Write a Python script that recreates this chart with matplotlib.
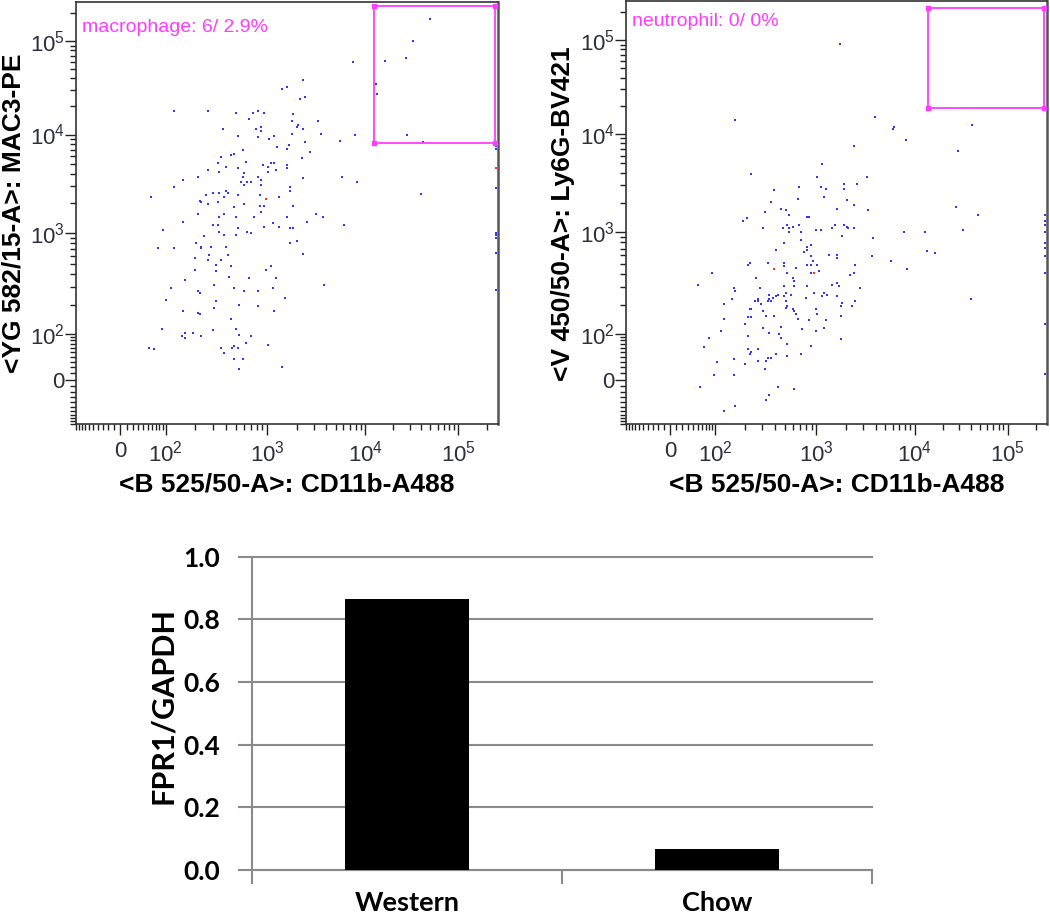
import numpy as np
import matplotlib
matplotlib.use('Agg')
import matplotlib.pyplot as plt

plt.rcParams['font.family'] = ['Liberation Sans', 'DejaVu Sans']
plt.rcParams['mathtext.fontset'] = 'custom'
plt.rcParams['mathtext.rm'] = 'Liberation Sans'
plt.rcParams['mathtext.it'] = 'Liberation Sans:italic'
plt.rcParams['mathtext.bf'] = 'Liberation Sans:bold'

# ---------------- data: macrophage plot (CD11b vs MAC3) ----------------
mac_x = [2330, 1600, 1430, 2440, 2170, 122, 267, 501, 726, 815, 940, 1860, 675, 1800, 3300, 2090, 873, 783, 873, 375,
         2010, 2350, 3570, 1800, 520, 815, 1050, 1180, 2440, 1670, 1600, 1270, 2720, 582, 485, 450, 358, 2260, 333, 402,
         630, 520, 906, 1016, 1100, 1185, 1600, 1600, 1233, 1016, 267, 345, 605, 582, 815, 214, 153, 562, 648, 700,
         873, 605, 873, 2350, 122, 1730, 1730, 402, 418, 299, 345, 256, 386, 520, 847, 56, 1320, 222, 231, 267,
         333, 485, 605, 847, 940, 1860,
         880, 214, 386, 345, 501, 755, 1600, 3180, 3710, 153, 2540, 299, 333, 1140, 1320, 940, 520, 1730, 1860, 91,
         345, 386, 501, 648, 700, 247, 206, 1730, 2010, 77, 122, 231, 231, 287, 402, 2350, 277, 418, 198, 267,
         358, 322, 450, 1100, 977, 198, 322, 433, 675, 1233, 159, 3830, 310, 114, 485, 1140, 214, 222, 605, 815,
         1540, 102, 322, 541, 815, 310, 153, 214, 222, 1185, 450, 87, 299, 501, 159, 191, 147, 159, 231, 541,
         700, 630, 1016, 358, 463, 478, 520, 52, 64, 386, 485, 582, 1430, 541,
         7570, 49000, 32400, 27400, 16100, 12900, 13300, 7870, 28300, 41400, 5550, 5820, 8240, 40000, 6040,
         250000, 250000, 250000, 250000, 250000, 250000, 250000, 250000]
mac_y = [38000, 32300, 31000, 25500, 24300, 17700, 17700, 17000, 17000, 17700, 17000, 16400, 14500, 13900, 13900, 12800, 11900, 11400, 10900, 11400,
         11900, 11400, 10070, 10070, 9680, 9330, 8970, 9680, 8300, 7740, 7160, 7450, 6620, 6880, 6370, 6140, 5900, 5720, 5090, 4710,
         5290, 4540, 4900, 4710, 5090, 5090, 4900, 4540, 4360, 4190, 4360, 4190, 4040, 3730, 3730, 3730, 3450, 3320, 3320, 3320,
         3450, 3080, 3080, 3590, 2920, 2920, 2660, 2660, 2550, 2550, 2550, 2400, 2330, 2400, 2450, 2310, 2310, 2120, 2040, 1960,
         2040, 1850, 1960, 1890, 1890, 1890,
         1630, 1570, 1570, 1450, 1450, 1450, 1450, 1570, 1450, 1300, 1300, 1200, 1200, 1250, 1160, 1160, 1110, 1110, 1110, 1070,
         1030, 962, 962, 1030, 1000, 925, 796, 796, 826, 710, 710, 736, 710, 736, 736, 624, 614, 614, 569, 548,
         548, 493, 474, 474, 440, 440, 424, 378, 366, 366, 353, 315, 315, 292, 292, 292, 273, 262, 273, 273,
         234, 225, 217, 201, 194, 186, 174, 168, 161, 174, 144, 115, 111, 115, 103, 103, 93, 87, 93, 99,
         93, 73, 68, 60, 60, 64, 60, 60, 56, 48, 35, 35, 20, 17,
         59700, 173000, 100000, 66500, 61100, 35100, 27400, 10000, 10000, 8300, 8610, 3730, 3320, 2480, 1190,
         7670, 7110, 2890, 1000, 962, 891, 634, 281]
mac_red_x = [977, 250000]
mac_red_y = [2200, 4540]
mac_gate_x = [12300, 244000]
mac_gate_y = [8110, 235000]

# ---------------- data: neutrophil plot (CD11b vs Ly6G) ----------------
neu_x = [162, 3950, 2390, 1150, 234, 1020, 3250, 1890, 2580, 684, 1100, 1240, 1890, 391, 658, 1190, 362, 2040, 2390, 455,
         506, 1620, 3380, 315, 545, 818, 850, 209, 194, 525, 684, 587, 303, 473, 545, 545, 705, 982, 1100, 1440,
         1560, 1890, 2040, 2120, 2390, 1810, 3800, 705, 490, 883, 818, 818, 760, 406, 1340, 1620, 1620, 883, 3660, 918,
         225, 217, 339, 490, 490, 818, 883, 1020, 2480, 634,
         88, 525, 883, 1060, 2210, 2390, 260, 587, 611, 52, 156, 162, 281, 490, 611, 818, 1440, 1620, 1690, 2770,
         506, 944, 1190, 1290, 349, 422, 490, 566, 1150, 1620, 150, 270, 270, 377, 406, 251, 339, 362, 350, 506,
         789, 2480, 1810, 124, 291, 525, 506, 1760, 2300, 587, 611, 224, 234, 303, 982, 634, 1020, 217, 234, 326,
         391, 1760, 125, 658, 850, 1240, 201, 455, 303, 1190, 731, 116, 982, 349, 438, 455, 217, 79, 1760, 525,
         883, 65, 217, 270, 234, 225, 406, 705, 525, 339, 362, 156, 270, 326, 104, 201, 315, 95, 156, 56,
         422, 611, 350, 326, 162, 125,
         6190, 6000, 41800, 8170, 29200, 28000, 48700, 7840, 13100, 33000, 13600, 16700, 5770, 8470, 40100,
         250000, 250000, 250000, 250000, 250000, 250000, 250000, 250000, 250000, 250000, 1750]
neu_y = [14000, 15200, 7480, 4910, 3920, 3620, 3620, 3100, 3100, 2890, 2890, 2760, 2760, 2670, 2200, 2290, 2040, 2110, 1880, 1740,
         1670, 1740, 1670, 1610, 1490, 1430, 1430, 1390, 1290, 1190, 1190, 1140, 1100, 1100, 1100, 1017, 1017, 1060, 1060, 1100,
         1190, 1190, 1140, 1100, 1100, 914, 881, 847, 787, 757, 728, 676, 650, 676, 612, 612, 567, 590, 590, 526,
         507, 489, 507, 507, 470, 489, 489, 489, 489, 456,
         407, 407, 407, 423, 392, 407, 364, 364, 337, 313, 292, 271, 292, 301, 301, 301, 313, 325, 301, 292,
         261, 261, 261, 251, 251, 251, 242, 251, 242, 242, 226, 226, 218, 233, 242, 218, 218, 218, 226, 218,
         233, 218, 209, 202, 202, 194, 187, 194, 194, 180, 173, 180, 180, 173, 180, 161, 161, 150, 150, 155,
         155, 155, 145, 145, 139, 139, 129, 120, 115, 115, 112, 108, 108, 104, 100, 88, 94, 88, 83, 69,
         65, 61, 57, 57, 49, 45, 45, 45, 42, 38, 38, 35, 32, 32, 29, 26, 17, 7, 7, -12,
         -12, -15, -26, -35, -48, -60,
         11900, 11400, 12400, 8690, 6650, 1810, 1500, 1020, 1020, 1065, 661, 635, 526, 440, 226,
         1500, 1290, 1190, 1020, 792, 707, 590, 407, 128, 9.7, 91600]
neu_red_x = [391, 944]
neu_red_y = [440, 407]
neu_gate_x = [13900, 244000]
neu_gate_y = [18970, 222000]

# ---------------- data: bar chart ----------------
bar_categories = ['Western', 'Chow']
bar_values = [0.864, 0.066]

# ---------------- axis (biexponential-like) scale ----------------
ANCH_V = np.array([-100.0, 0.0, 100.0, 1e3, 1e4, 1e5, 262143.0])
ANCH_F = np.array([0.0, 0.105, 0.2125, 0.453, 0.686, 0.907, 1.0])
C = 50.0
ANCH_U = np.arcsinh(ANCH_V / C)


def fwd(v):
    u = np.arcsinh(np.asarray(v, dtype=float) / C)
    out = np.interp(u, ANCH_U, ANCH_F)
    s0 = (ANCH_F[1] - ANCH_F[0]) / (ANCH_U[1] - ANCH_U[0])
    s1 = (ANCH_F[-1] - ANCH_F[-2]) / (ANCH_U[-1] - ANCH_U[-2])
    out = np.where(u < ANCH_U[0], ANCH_F[0] + (u - ANCH_U[0]) * s0, out)
    out = np.where(u > ANCH_U[-1], ANCH_F[-1] + (u - ANCH_U[-1]) * s1, out)
    return out


def inv(f):
    f = np.asarray(f, dtype=float)
    u = np.interp(f, ANCH_F, ANCH_U)
    s0 = (ANCH_U[1] - ANCH_U[0]) / (ANCH_F[1] - ANCH_F[0])
    s1 = (ANCH_U[-1] - ANCH_U[-2]) / (ANCH_F[-1] - ANCH_F[-2])
    u = np.where(f < ANCH_F[0], ANCH_U[0] + (f - ANCH_F[0]) * s0, u)
    u = np.where(f > ANCH_F[-1], ANCH_U[-1] + (f - ANCH_F[-1]) * s1, u)
    return C * np.sinh(u)


MAJOR = [0, 1e2, 1e3, 1e4, 1e5]
MAJOR_LABELS = ['0', r'$\mathregular{10^{2}}$', r'$\mathregular{10^{3}}$',
                r'$\mathregular{10^{4}}$', r'$\mathregular{10^{5}}$']
MINOR = ([-k * 10 for k in range(1, 11)] + [k * 10 for k in range(1, 10)] +
         [k * 100 for k in range(2, 10)] + [k * 1000 for k in range(2, 10)] +
         [k * 10000 for k in range(2, 10)] + [200000])

W, H = 1050, 918
fig = plt.figure(figsize=(W / 100, H / 100), dpi=100)
fig.patch.set_facecolor('white')


def box(l, t, r, b):
    return [l / W, 1 - b / H, (r - l) / W, (b - t) / H]


TICKC = '#2e2e40'
MAG = '#ff3cff'
BLUE = '#3535ff'
RED = '#ff3030'


def flow_axes(rect, x, y, rx, ry, gx, gy):
    ax = fig.add_axes(rect)
    ax.set_xscale('function', functions=(fwd, inv))
    ax.set_yscale('function', functions=(fwd, inv))
    ax.set_xlim(-100, 262143)
    ax.set_ylim(-100, 262143)
    ax.set_xticks(MAJOR, labels=MAJOR_LABELS)
    ax.set_yticks(MAJOR, labels=MAJOR_LABELS)
    ax.set_xticks(MINOR, minor=True)
    ax.set_yticks(MINOR, minor=True)
    ax.tick_params(which='both', direction='out', color='#222222', width=1.0,
                   labelsize=16, labelcolor=TICKC)
    ax.tick_params(which='major', length=8)
    ax.tick_params(which='minor', length=4.5)
    ax.tick_params(axis='y', which='major', pad=0)
    ax.tick_params(axis='x', which='major', pad=4)
    for sp in ax.spines.values():
        sp.set_linewidth(1.2)
        sp.set_color('#333333')
    ax.spines['right'].set_color('#555555')
    ax.spines['right'].set_linewidth(1.8)
    ax.scatter(x, y, s=4.5, marker='s', c=BLUE, linewidths=0, clip_on=False, zorder=3)
    ax.scatter(rx, ry, s=4.5, marker='s', c=RED, linewidths=0, clip_on=False, zorder=4)
    x0, x1 = gx
    y0, y1 = gy
    ax.plot([x0, x1, x1, x0, x0], [y0, y0, y1, y1, y0], color=MAG, lw=1.3, zorder=5)
    ax.plot([x0, x1, x1, x0], [y0, y0, y1, y1], 's', ms=2.2, color=MAG, zorder=6)
    return ax


ax1 = flow_axes(box(76, 2, 497.7, 424), mac_x, mac_y, mac_red_x, mac_red_y, mac_gate_x, mac_gate_y)
ax2 = flow_axes(box(625.8, 1, 1046.7, 424), neu_x, neu_y, neu_red_x, neu_red_y, neu_gate_x, neu_gate_y)

fig.text(82 / W, 1 - 31.7 / H, 'macrophage: 6/ 2.9%', color=MAG, fontsize=14, va='baseline', ha='left')
fig.text(631.6 / W, 1 - 26 / H, 'neutrophil: 0/ 0%', color=MAG, fontsize=14, va='baseline', ha='left')

fig.text(286.5 / W, 1 - 484 / H, '<B 525/50-A>: CD11b-A488', fontsize=19, fontweight='bold',
         ha='center', va='center')
fig.text(836.3 / W, 1 - 484 / H, '<B 525/50-A>: CD11b-A488', fontsize=19, fontweight='bold',
         ha='center', va='center')
fig.text(13.5 / W, 1 - 213 / H, '<YG 582/15-A>: MAC3-PE', fontsize=19, fontweight='bold',
         ha='center', va='center', rotation=90)
fig.text(563 / W, 1 - 214 / H, '<V 450/50-A>: Ly6G-BV421', fontsize=19, fontweight='bold',
         ha='center', va='center', rotation=90)

# ---------------- bar chart ----------------
GRAY = '#8a8a8a'
ax3 = fig.add_axes(box(252, 556.7, 872, 870))
pos = np.arange(len(bar_categories))
ax3.bar(pos, bar_values, width=0.4, color='black', zorder=3)
ax3.set_xlim(-0.5, len(bar_categories) - 0.5)
ax3.set_ylim(0, 1.0)
ax3.set_yticks(np.arange(0, 1.01, 0.2), labels=['%.1f' % v for v in np.arange(0, 1.01, 0.2)])
ax3.grid(axis='y', color=GRAY, lw=1.5, zorder=0)
for gl in ax3.get_ygridlines():
    gl.set_clip_on(False)
ax3.set_xticks(pos, labels=bar_categories)
ax3.set_xticks(np.arange(-0.5, len(bar_categories), 1.0), minor=True)
ax3.tick_params(axis='x', which='major', length=0, pad=15)
ax3.tick_params(axis='x', which='minor', length=10, width=1.5, color=GRAY)
ax3.tick_params(axis='y', which='major', length=10, width=1.5, color=GRAY, pad=13)
for lab in ax3.get_yticklabels():
    lab.set_fontfamily('Lato')
    lab.set_fontweight('bold')
    lab.set_fontsize(19)
for lab in ax3.get_xticklabels():
    lab.set_fontfamily('Lato')
    lab.set_fontweight('bold')
    lab.set_fontsize(19.5)
for s in ['top', 'right']:
    ax3.spines[s].set_visible(False)
for s in ['left', 'bottom']:
    ax3.spines[s].set_color(GRAY)
    ax3.spines[s].set_linewidth(1.5)
fig.text(163 / W, 1 - 705 / H, 'FPR1/GAPDH', fontfamily='Lato', fontweight='bold', fontsize=22,
         rotation=90, ha='center', va='center')

fig.savefig('out.png', dpi=100, facecolor='white')
